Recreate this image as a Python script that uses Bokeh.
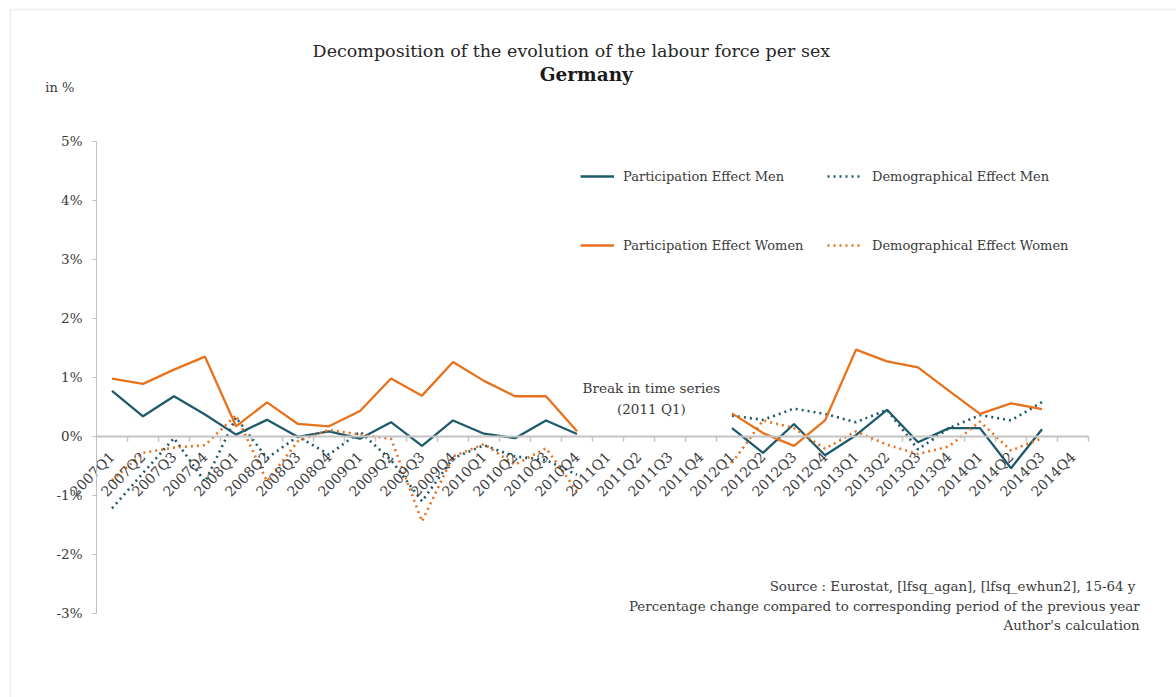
import numpy as np
from math import pi
from bokeh.plotting import figure
from bokeh.models import (ColumnDataSource, Range1d, FactorRange, PrintfTickFormatter,
                          Legend, LegendItem, Label, FixedTicker, BoxAnnotation)
from bokeh.transform import dodge
from bokeh.embed import file_html
from bokeh.resources import INLINE

nan = float("nan")

quarters = ["2007Q1", "2007Q2", "2007Q3", "2007Q4", "2008Q1", "2008Q2", "2008Q3", "2008Q4",
            "2009Q1", "2009Q2", "2009Q3", "2009Q4", "2010Q1", "2010Q2", "2010Q3", "2010Q4",
            "2011Q1", "2011Q2", "2011Q3", "2011Q4", "2012Q1", "2012Q2", "2012Q3", "2012Q4",
            "2013Q1", "2013Q2", "2013Q3", "2013Q4", "2014Q1", "2014Q2", "2014Q3", "2014Q4"]

participation_men = [0.77, 0.34, 0.68, 0.37, 0.03, 0.28, -0.01, 0.085, -0.04, 0.24, -0.16, 0.27,
                     0.045, -0.03, 0.27, 0.04, nan, nan, nan, nan, 0.14, -0.28, 0.21, -0.32,
                     0.02, 0.45, -0.10, 0.14, 0.14, -0.54, 0.12, nan]
demographical_men = [-1.22, -0.62, -0.03, -0.77, 0.32, -0.37, 0.0, -0.31, 0.08, -0.40, -1.10, -0.37,
                     -0.15, -0.34, -0.40, -0.65, nan, nan, nan, nan, 0.35, 0.28, 0.47, 0.38,
                     0.24, 0.45, -0.22, 0.14, 0.36, 0.27, 0.58, nan]
participation_women = [0.98, 0.89, 1.13, 1.35, 0.17, 0.575, 0.21, 0.17, 0.43, 0.98, 0.69, 1.26,
                       0.94, 0.68, 0.68, 0.085, nan, nan, nan, nan, 0.39, 0.056, -0.16, 0.27,
                       1.47, 1.27, 1.17, 0.77, 0.38, 0.56, 0.46, nan]
demographical_women = [-0.75, -0.28, -0.19, -0.15, 0.36, -0.76, -0.08, 0.11, 0.03, -0.04, -1.44, -0.34,
                       -0.13, -0.48, -0.20, -0.93, nan, nan, nan, nan, -0.45, 0.27, 0.14, -0.21,
                       0.085, -0.14, -0.30, -0.17, 0.25, -0.24, -0.03, nan]

y_ticks = [-3, -2, -1, 0, 1, 2, 3, 4, 5]

TEAL = "#1f5a6b"
ORANGE = "#e8711c"
FONT = "DejaVu Serif"
TXT = "#3a3a3a"

src = ColumnDataSource(dict(
    q=quarters,
    pm=np.array(participation_men, dtype=float),
    dm=np.array(demographical_men, dtype=float),
    pw=np.array(participation_women, dtype=float),
    dw=np.array(demographical_women, dtype=float),
))

xr = FactorRange(*quarters, range_padding=88 / 31, range_padding_units="absolute")
p = figure(width=1176, height=697, x_range=xr, y_range=Range1d(-4.423, 7.383),
           output_backend="svg", toolbar_location=None,
           min_border_left=8, min_border_right=0, min_border_top=0, min_border_bottom=0)
p.outline_line_color = None
p.grid.visible = False

# light frame around the chart area
p.add_layout(BoxAnnotation(left=-2.774, top=7.231, right=60, bottom=-20,
                           fill_alpha=0, line_color="#cccccc", line_width=2, level="underlay"))

# y axis on the left edge of the first quarter
p.yaxis.fixed_location = 0
p.yaxis.bounds = (-3, 5)
p.yaxis.ticker = FixedTicker(ticks=y_ticks)
p.yaxis.formatter = PrintfTickFormatter(format="%d%%")
p.yaxis.axis_line_color = "#bfbfbf"
p.yaxis.major_tick_line_color = "#bfbfbf"
p.yaxis.major_tick_in = 0
p.yaxis.major_tick_out = 4
p.yaxis.minor_tick_line_color = None
p.yaxis.major_label_text_font = FONT
p.yaxis.major_label_text_font_size = "13.5px"
p.yaxis.major_label_text_color = TXT
p.yaxis.major_label_standoff = 10

# x axis at zero
p.xaxis.fixed_location = 0
p.xaxis.bounds = (0, 32)
p.xaxis.axis_line_color = "#c4c4c4"
p.xaxis.axis_line_width = 2
p.xaxis.major_tick_line_color = None
p.xaxis.major_label_orientation = pi / 4
p.xaxis.major_label_text_font = FONT
p.xaxis.major_label_text_font_size = "14px"
p.xaxis.major_label_text_color = TXT
p.xaxis.major_label_standoff = 12

# boundary tick marks on the zero axis
p.segment(x0=dodge("q", 0.5, range=p.x_range), y0=0,
          x1=dodge("q", 0.5, range=p.x_range), y1=-0.09,
          source=src, line_color="#c4c4c4", line_width=1.5)

r_pm = p.line("q", "pm", source=src, line_color=TEAL, line_width=2.3)
r_dm = p.line("q", "dm", source=src, line_color=TEAL, line_width=2.6, line_dash="2 4")
r_pw = p.line("q", "pw", source=src, line_color=ORANGE, line_width=2.3)
r_dw = p.line("q", "dw", source=src, line_color=ORANGE, line_width=2.6, line_dash="2 4")

def make_legend(items, loc, standoff):
    lg = Legend(items=items, location=loc, orientation="vertical",
                padding=0, margin=0, spacing=49, border_line_color=None,
                background_fill_alpha=0, glyph_width=34, glyph_height=20,
                label_height=20, label_standoff=standoff,
                label_text_font=FONT, label_text_font_size="13px",
                label_text_color=TXT)
    p.add_layout(lg, "center")

# legend location is measured from the frame's bottom-left corner (frame starts at x=8)
make_legend([LegendItem(label="Participation Effect Men", renderers=[r_pm]),
             LegendItem(label="Participation Effect Women", renderers=[r_pw])], (572, 442), 9)
make_legend([LegendItem(label="Demographical Effect Men", renderers=[r_dm]),
             LegendItem(label="Demographical Effect Women", renderers=[r_dw])], (819, 442), 11)

def lab(x, y, text, size, align="center", bold=False, color=TXT):
    p.add_layout(Label(x=x, y=y, text=text, text_font=FONT, text_font_size=size,
                       text_align=align, text_baseline="middle", text_color=color,
                       text_font_style="bold" if bold else "normal"))

lab(15.32, 6.52, "Decomposition of the evolution of the labour force per sex", "17.5px", color="#262626")
lab(15.8, 6.13, "Germany", "18.5px", bold=True, color="#1a1a1a")
lab(-1.65, 5.91, "in %", "13px", align="left")
lab(17.9, 0.82, "Break in time series", "13.5px")
lab(17.9, 0.46, "(2011 Q1)", "13.5px")
lab(33.65, -2.54, "Source : Eurostat,  [lfsq_agan], [lfsq_ewhun2], 15-64 y", "13.4px", align="right")
lab(33.65, -2.88, "Percentage change compared to corresponding period of the previous year", "13.4px", align="right")
lab(33.65, -3.20, "Author's calculation", "13.4px", align="right")

open("out.html", "w").write(file_html(p, INLINE))
